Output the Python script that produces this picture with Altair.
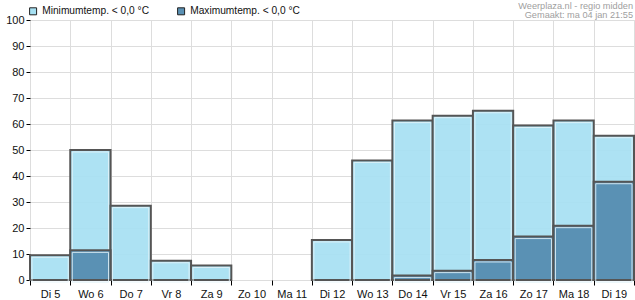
import altair as alt
import pandas as pd

days = ["Di 5", "Wo 6", "Do 7", "Vr 8", "Za 9", "Zo 10", "Ma 11", "Di 12",
        "Wo 13", "Do 14", "Vr 15", "Za 16", "Zo 17", "Ma 18", "Di 19"]
min_vals = [9.5, 50, 28.6, 7.4, 5.6, 0, 0, 15.4, 46, 61.3, 63.2, 65.1, 59.4, 61.3, 55.5]
max_vals = [0, 11.4, 0, 0, 0, 0, 0, 0, 0, 1.7, 3.6, 7.7, 16.7, 20.9, 37.8]
series = ["Minimumtemp. < 0,0 °C", "Maximumtemp. < 0,0 °C"]
colors = ["#A6E0F2", "#5A91B4"]
source_line = "Weerplaza.nl - regio midden"
made_line = "Gemaakt: ma 04 jan 21:55"

rows = []
for d, v in zip(days, min_vals):
    rows.append({"day": d, "value": v, "series": series[0]})
for d, v in zip(days, max_vals):
    rows.append({"day": d, "value": v, "series": series[1]})
df = pd.DataFrame(rows)

FONT = "Liberation Sans"

x = alt.X("day:N", sort=days, title=None,
          scale=alt.Scale(domain=days, paddingInner=0, paddingOuter=0),
          axis=alt.Axis(labelAngle=0, tickBand="extent", tickSize=5, tickColor="#000",
                        labelFontSize=11, labelColor="#111", labelFont=FONT,
                        labelPadding=3, domain=False, grid=True, gridColor="#dddddd"))
y = alt.Y("value:Q", title=None,
          scale=alt.Scale(domain=[0, 100], nice=False),
          axis=alt.Axis(values=list(range(0, 101, 10)), tickSize=4, tickColor="#000",
                        labelFontSize=11, labelColor="#111", labelFont=FONT,
                        labelPadding=2, domain=False, grid=True, gridColor="#dddddd"))
color = alt.Color("series:N", scale=alt.Scale(domain=series, range=colors),
                  legend=alt.Legend(title=None, orient="none", legendX=-2, legendY=-14,
                                    direction="horizontal", symbolType="square",
                                    symbolSize=49, symbolStrokeColor="#222",
                                    symbolStrokeWidth=1, symbolOpacity=1,
                                    labelFontSize=10.2, labelFont=FONT, labelColor="#111",
                                    columnPadding=25, symbolOffset=0, padding=0,
                                    labelOffset=4))

base = alt.Chart(df).transform_filter("datum.value > 0")


def bars(name, opacity):
    sub = base.transform_filter(alt.datum.series == name)
    body = sub.mark_bar(stroke="#555555", strokeWidth=2, fillOpacity=opacity).encode(
        x=x, y=y, color=color)
    shine = sub.mark_bar(fillOpacity=0, stroke="#e4f3f9", strokeWidth=1, strokeOpacity=0.85,
                         width=alt.RelativeBandSize(0.9), yOffset=2).encode(
        x=x, y=y)
    return [body, shine]


info1 = alt.Chart(pd.DataFrame({"t": [source_line]})).mark_text(
    align="right", baseline="alphabetic", fontSize=9.2, font=FONT, color="#a0a0a0"
).encode(text="t:N", x=alt.value(603), y=alt.value(-11))

info2 = alt.Chart(pd.DataFrame({"t": [made_line]})).mark_text(
    align="right", baseline="alphabetic", fontSize=9.2, font=FONT, color="#a0a0a0"
).encode(text="t:N", x=alt.value(603), y=alt.value(-2))

chart = alt.layer(*bars(series[0], 0.92), *bars(series[1], 1.0), info1, info2).properties(
    width=604, height=260,
    autosize=alt.AutoSizeParams(type="none"),
    padding={"left": 30, "top": 20, "right": 1, "bottom": 20},
).configure_view(stroke="#000", strokeWidth=1.5).configure(background="white")

chart.save("out.html", embed_options={"renderer": "svg", "actions": False})
